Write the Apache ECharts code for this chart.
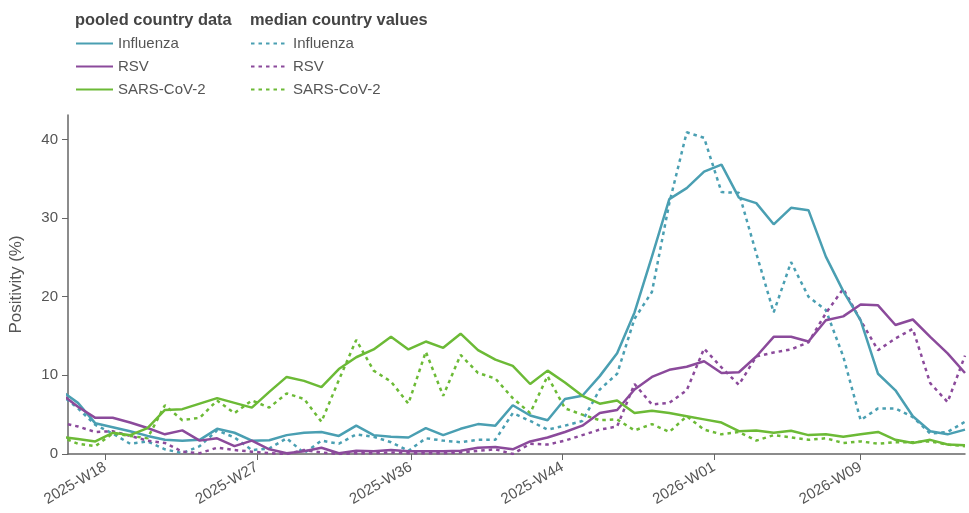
<!DOCTYPE html>
<html>
<head>
<meta charset="utf-8">
<title>Positivity</title>
<script src="https://cdn.jsdelivr.net/npm/echarts@6.0.0/dist/echarts.min.js"></script>
<style>
  html, body { margin: 0; padding: 0; background: #fff; }
  #chart { width: 969px; height: 513px; }
</style>
</head>
<body>
<div id="chart"></div>
<script>
// weekly points (week-ending Sundays)
const weeks = [
  '2025-04-13', '2025-04-20', '2025-04-27', '2025-05-04', '2025-05-11', '2025-05-18', '2025-05-25',
  '2025-06-01', '2025-06-08', '2025-06-15', '2025-06-22', '2025-06-29', '2025-07-06', '2025-07-13',
  '2025-07-20', '2025-07-27', '2025-08-03', '2025-08-10', '2025-08-17', '2025-08-24', '2025-08-31',
  '2025-09-07', '2025-09-14', '2025-09-21', '2025-09-28', '2025-10-05', '2025-10-12', '2025-10-19',
  '2025-10-26', '2025-11-02', '2025-11-09', '2025-11-16', '2025-11-23', '2025-11-30', '2025-12-07',
  '2025-12-14', '2025-12-21', '2025-12-28', '2026-01-04', '2026-01-11', '2026-01-18', '2026-01-25',
  '2026-02-01', '2026-02-08', '2026-02-15', '2026-02-22', '2026-03-01', '2026-03-08', '2026-03-15',
  '2026-03-22', '2026-03-29', '2026-04-05', '2026-04-12'
]

// pooled country data
const influenzaPooled = [
  8.1, 6.5, 3.9, 3.4, 2.9, 2.3, 1.8, 1.7, 1.8, 3.2, 2.7, 1.7, 1.75, 2.4, 2.7, 2.8, 2.3, 3.6,
  2.4, 2.2, 2.1, 3.3, 2.4, 3.2, 3.8, 3.6, 6.2, 4.9, 4.3, 7.0, 7.4, 9.9, 12.8, 18.0, 25.1, 32.4,
  33.8, 35.9, 36.8, 32.6, 31.9, 29.2, 31.3, 31.0, 25.1, 20.7, 17.0, 10.2, 8.1, 4.8, 2.9, 2.5, 3.1
]
const rsvPooled = [
  7.7, 6.0, 4.6, 4.6, 4.0, 3.3, 2.5, 3.0, 1.7, 2.0, 1.0, 1.7, 0.6, 0.1, 0.35, 0.8, 0.1, 0.4,
  0.35, 0.5, 0.35, 0.35, 0.35, 0.4, 0.8, 0.9, 0.6, 1.6, 2.1, 2.8, 3.6, 5.2, 5.6, 8.2, 9.8, 10.7,
  11.1, 11.8, 10.3, 10.4, 12.4, 14.9, 14.9, 14.3, 17.0, 17.5, 19.0, 18.9, 16.4, 17.1, 14.9, 12.8, 10.3
]
const sarsPooled = [
  2.2, 1.9, 1.6, 2.7, 2.4, 3.3, 5.6, 5.7, 6.4, 7.1, 6.5, 5.9, 7.9, 9.8, 9.3, 8.5, 10.8, 12.3,
  13.3, 14.9, 13.3, 14.3, 13.5, 15.3, 13.2, 12.0, 11.2, 8.9, 10.6, 9.1, 7.4, 6.4, 6.8, 5.2, 5.5, 5.2,
  4.8, 4.4, 4.0, 2.9, 3.0, 2.7, 2.95, 2.4, 2.5, 2.2, 2.5, 2.8, 1.8, 1.4, 1.8, 1.2, 1.1
]

// median country values
const influenzaMedian = [
  7.6, 5.8, 3.7, 2.6, 1.3, 1.6, 0.6, 0.1, 1.0, 3.0, 2.1, 0.5, 0.7, 2.0, 0.1, 1.7, 1.3, 2.5,
  2.2, 1.5, 0.4, 2.0, 1.7, 1.5, 1.8, 1.8, 5.2, 4.2, 3.1, 3.6, 4.2, 8.2, 10.2, 17.2, 20.6, 31.9,
  40.9, 40.2, 33.3, 33.2, 25.5, 18.0, 24.4, 20.0, 18.3, 12.4, 4.3, 5.8, 5.8, 4.7, 2.6, 2.8, 4.1
]
const rsvMedian = [
  4.0, 3.5, 2.8, 2.9, 2.3, 1.7, 1.4, 0.3, 0.1, 0.8, 0.5, 0.3, 0.1, 0.0, 0.5, 0.2, 0.0, 0.1,
  0.1, 0.2, 0.1, 0.1, 0.1, 0.2, 0.4, 0.6, 0.0, 1.3, 1.2, 1.7, 2.4, 3.1, 3.5, 8.9, 6.3, 6.5,
  8.1, 13.4, 11.0, 8.8, 12.4, 12.9, 13.3, 14.2, 17.9, 21.0, 17.0, 13.2, 14.7, 15.9, 9.0, 6.6, 12.5
]
const sarsMedian = [
  2.2, 1.3, 1.0, 2.6, 2.3, 2.0, 6.2, 4.3, 4.6, 6.8, 5.2, 6.8, 5.9, 7.7, 7.0, 4.1, 9.4, 14.5,
  10.6, 9.2, 6.4, 13.0, 7.4, 12.6, 10.3, 9.6, 7.1, 5.2, 9.9, 5.8, 5.0, 4.3, 4.4, 3.0, 3.8, 2.8,
  4.8, 3.1, 2.5, 2.8, 1.7, 2.4, 2.1, 1.8, 2.0, 1.4, 1.6, 1.3, 1.5, 1.5, 1.6, 1.2, 1.0
]

// x-axis ticks: first day of every second month, labelled with its ISO week
const tickDates = ['2025-05-01', '2025-07-01', '2025-09-01', '2025-11-01', '2026-01-01', '2026-03-01']
const tickLabels = ['2025-W18', '2025-W27', '2025-W36', '2025-W44', '2026-W01', '2026-W09']

const FONT = '"Liberation Sans", Arial, sans-serif'
const COLORS = { Influenza: '#4a9fb2', RSV: '#8b4a9b', 'SARS-CoV-2': '#6cba36' }
const DAY = 86400000

// days since epoch (UTC) so the axis is a plain value axis in days
function toDay(s) {
  const p = s.split('-').map(Number)
  return Date.UTC(p[0], p[1] - 1, p[2]) / DAY
}

const tickDays = tickDates.map(toDay)
const labelByDay = {}
tickDays.forEach((d, i) => { labelByDay[d] = tickLabels[i] })

function makeSeries(group, virus, values, dotted) {
  return {
    name: group + '|' + virus,
    type: 'line',
    symbol: 'none',
    clip: true,
    data: weeks.map((w, i) => [toDay(w), values[i]]),
    color: COLORS[virus],
    lineStyle: {
      color: COLORS[virus],
      width: 2.5,
      type: dotted ? [3.5, 4] : 'solid'
    },
    emphasis: { disabled: true },
    z: dotted ? 2 : 3
  }
}

const series = [
  makeSeries('median', 'Influenza', influenzaMedian, true),
  makeSeries('median', 'RSV', rsvMedian, true),
  makeSeries('median', 'SARS-CoV-2', sarsMedian, true),
  makeSeries('pooled', 'Influenza', influenzaPooled, false),
  makeSeries('pooled', 'RSV', rsvPooled, false),
  makeSeries('pooled', 'SARS-CoV-2', sarsPooled, false)
]

const legendBase = {
  orient: 'vertical',
  top: 36,
  padding: 0,
  itemWidth: 37,
  itemHeight: 16,
  itemGap: 8,
  selectedMode: false,
  itemStyle: { opacity: 0 },
  formatter: name => name.split('|')[1],
  textStyle: { color: '#555', fontSize: 15, fontFamily: FONT }
}

const chart = echarts.init(document.getElementById('chart'), null, { renderer: 'canvas' })

chart.setOption({
  animation: false,
  textStyle: { fontFamily: FONT },
  graphic: [
    {
      type: 'text', left: 75, top: 12,
      style: { text: 'pooled country data', fill: '#444', font: 'bold 16.4px ' + FONT }
    },
    {
      type: 'text', left: 250, top: 12,
      style: { text: 'median country values', fill: '#444', font: 'bold 16.4px ' + FONT }
    }
  ],
  legend: [
    Object.assign({}, legendBase, {
      left: 75,
      data: ['pooled|Influenza', 'pooled|RSV', 'pooled|SARS-CoV-2']
    }),
    Object.assign({}, legendBase, {
      left: 250,
      data: ['median|Influenza', 'median|RSV', 'median|SARS-CoV-2']
    })
  ],
  grid: { left: 68, right: 4, top: 115, bottom: 59, containLabel: false },
  xAxis: {
    type: 'value',
    min: toDay('2025-04-16'),
    max: toDay('2026-04-12'),
    axisLine: { show: true, lineStyle: { color: '#666', width: 1.5 } },
    axisTick: { show: true, length: 6, customValues: tickDays, lineStyle: { color: '#666' } },
    splitLine: { show: false },
    axisLabel: {
      customValues: tickDays,
      formatter: value => labelByDay[value] || '',
      rotate: 30,
      margin: 12,
      color: '#555',
      fontSize: 15,
      fontFamily: FONT
    }
  },
  yAxis: {
    type: 'value',
    min: 0,
    max: 43.1,
    interval: 10,
    name: 'Positivity (%)',
    nameLocation: 'middle',
    nameGap: 43,
    nameTextStyle: { color: '#555', fontSize: 17, fontFamily: FONT },
    axisLine: { show: true, lineStyle: { color: '#666', width: 1.5 } },
    axisTick: { show: true, length: 6, lineStyle: { color: '#666' } },
    splitLine: { show: false },
    axisLabel: { color: '#555', fontSize: 15, margin: 10, showMaxLabel: false, fontFamily: FONT }
  },
  series: series
})
</script>
</body>
</html>
